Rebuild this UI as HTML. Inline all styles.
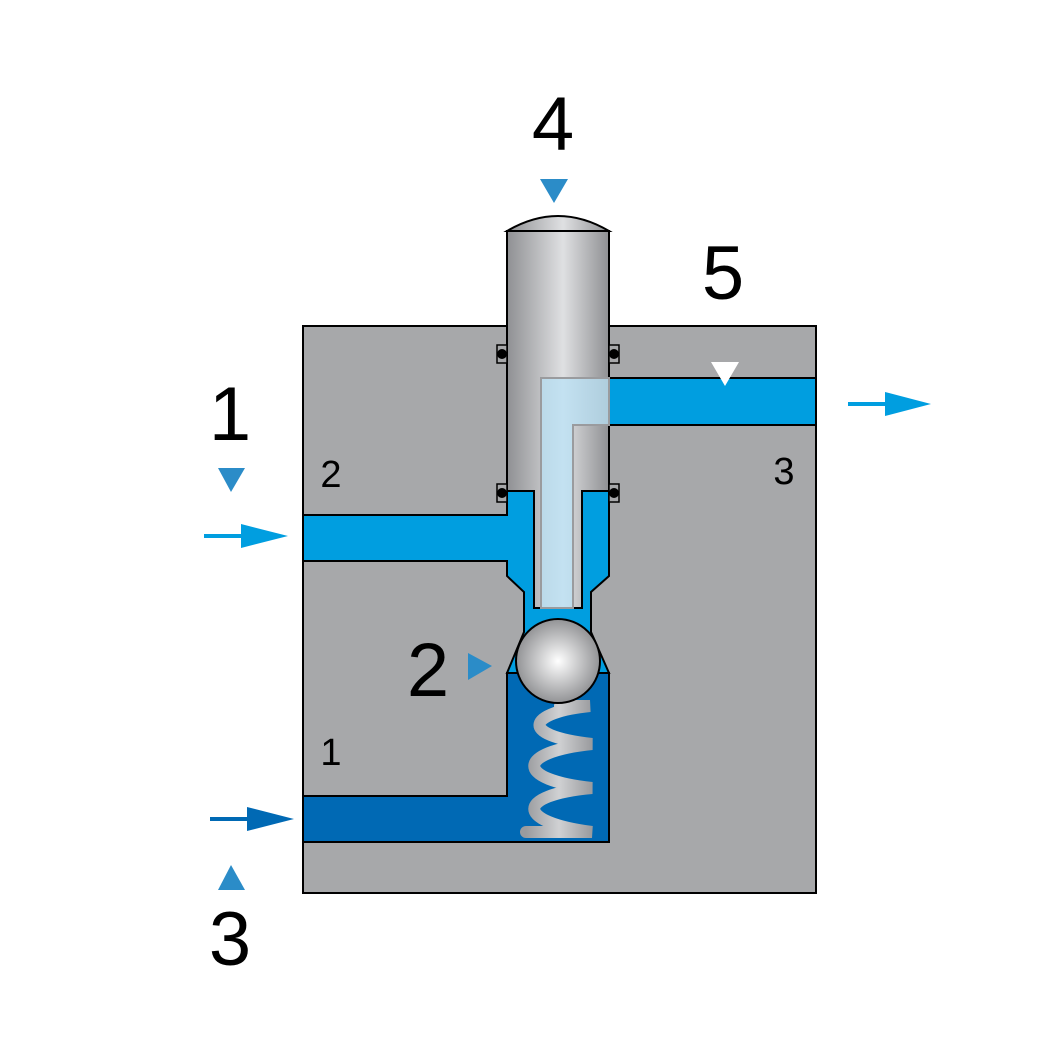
<!DOCTYPE html>
<html><head><style>body{margin:0;background:#fff}svg{display:block}</style></head><body>
<svg width="1063" height="1063" viewBox="0 0 1063 1063" xmlns="http://www.w3.org/2000/svg" font-family="'Liberation Sans', sans-serif">
<defs>
<linearGradient id="pist" x1="0" x2="1" y1="0" y2="0">
<stop offset="0" stop-color="#8f9093"/><stop offset="0.55" stop-color="#dfe0e2"/><stop offset="1" stop-color="#8f9093"/>
</linearGradient>
<radialGradient id="ball" cx="0.5" cy="0.5" r="0.6">
<stop offset="0" stop-color="#ffffff"/><stop offset="1" stop-color="#7c7d80"/>
</radialGradient>
<linearGradient id="spr" x1="0" x2="1"><stop offset="0" stop-color="#9a9b9e"/><stop offset="0.5" stop-color="#d0d1d3"/><stop offset="1" stop-color="#9a9b9e"/></linearGradient>
</defs>
<rect x="303" y="326" width="513" height="567" fill="#a7a8aa" stroke="#000" stroke-width="2"/>
<rect x="609" y="378" width="207" height="47" fill="#009ee0" stroke="#000" stroke-width="2"/>
<path d="M303 515 H507 V491 H609 V576 L591 592 V632 L609 673 H507 L524 632 V592 L507 576 V561 H303 Z" fill="#009ee0" stroke="#000" stroke-width="2"/>
<path d="M303 796 H507 V673 H609 V842 H303 Z" fill="#0069b4" stroke="#000" stroke-width="2"/>
<g stroke="url(#spr)" stroke-width="12" fill="none" stroke-linecap="round">
<path d="M560 706 H590 C530 712 515 735 592 744 C515 752 515 780 592 788 C515 795 515 822 592 832 H526"/>
</g>
<circle cx="558" cy="661" r="42" fill="url(#ball)" stroke="#000" stroke-width="2"/>
<path d="M507 231 Q558 201 609 231 Z" fill="url(#pist)" stroke="#000" stroke-width="2"/>
<path d="M507 231 H609 V491 H582 V608 H534 V491 H507 Z" fill="url(#pist)" stroke="#000" stroke-width="2"/>
<path d="M541 378 H609 V425 H573 V608 H541 Z" fill="#b9e2f5" fill-opacity="0.75" stroke="#9a9b9e" stroke-width="2"/>
<g fill="#000">
<rect x="497" y="345" width="10" height="18" fill="#a7a8aa" stroke="#000" stroke-width="1.5"/><circle cx="502" cy="354" r="5"/>
<rect x="609" y="345" width="10" height="18" fill="#a7a8aa" stroke="#000" stroke-width="1.5"/><circle cx="614" cy="354" r="5"/>
<rect x="497" y="484" width="10" height="18" fill="#a7a8aa" stroke="#000" stroke-width="1.5"/><circle cx="502" cy="493" r="5"/>
<rect x="609" y="484" width="10" height="18" fill="#a7a8aa" stroke="#000" stroke-width="1.5"/><circle cx="614" cy="493" r="5"/>
</g>
<g fill="#009ee0" stroke="none">
<rect x="204" y="534" width="50" height="4"/><polygon points="241,524 288,536 241,548"/>
<rect x="848" y="402" width="50" height="4"/><polygon points="885,392 931,404 885,416"/>
</g>
<g fill="#0069b4"><rect x="210" y="817" width="50" height="4"/><polygon points="247,807 294,819 247,831"/></g>
<g fill="#2b8cc8">
<polygon points="540,179 568,179 554,203"/>
<polygon points="218,468 245,468 231,492"/>
<polygon points="218,890 245,890 231,865"/>
<polygon points="468,653 468,680 492,666"/>
</g>
<polygon points="711,362 739,362 725,386" fill="#fff"/>
<g fill="#000" text-anchor="middle">
<text x="553" y="150" font-size="76">4</text>
<text x="723" y="299" font-size="76">5</text>
<text x="230" y="440" font-size="76">1</text>
<text x="230" y="965" font-size="76">3</text>
<text x="428" y="696" font-size="76">2</text>
<text x="331" y="487" font-size="38">2</text>
<text x="784" y="484" font-size="38">3</text>
<text x="331" y="765" font-size="38">1</text>
</g>
</svg>
</body></html>
